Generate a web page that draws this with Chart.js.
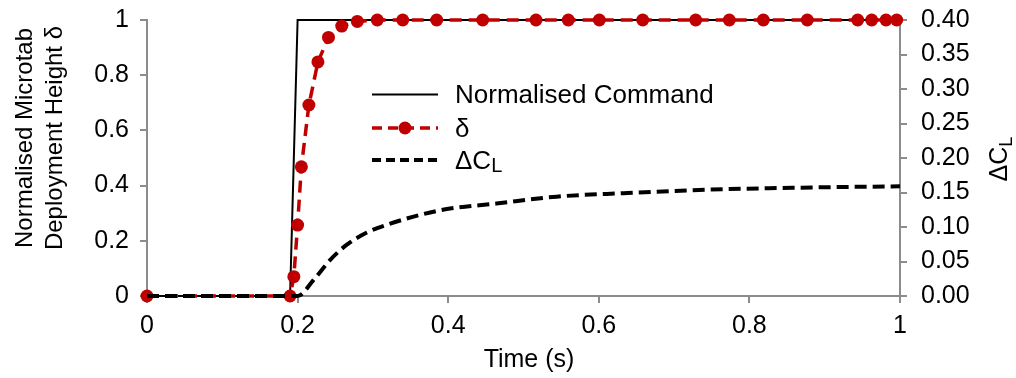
<!DOCTYPE html>
<html>
<head>
<meta charset="utf-8">
<script src="https://cdn.jsdelivr.net/npm/chart.js@4.4.1/dist/chart.umd.min.js"></script>
<style>
  html, body { margin: 0; padding: 0; background: #ffffff; }
  #wrap { width: 1016px; height: 378px; }
</style>
</head>
<body>
<div id="wrap"><canvas id="c" width="1016" height="378"></canvas></div>
<script>
// ---- Data ----
const commandTime = [0, 0.19, 0.2, 1];
const commandValue = [0, 0, 1, 1];

const deltaTime = [0, 0.19, 0.195, 0.2, 0.205, 0.215, 0.227, 0.241, 0.2586, 0.2793, 0.3058, 0.3396,
  0.3847, 0.4458, 0.5166, 0.5595, 0.6007, 0.6583, 0.7287, 0.7733, 0.8185, 0.8769, 0.9438, 0.9624, 0.9814, 0.9956];
const deltaValue = [0, 0, 0.070, 0.257, 0.468, 0.692, 0.848, 0.937, 0.978, 0.995, 1, 1,
  1, 1, 1, 1, 1, 1, 1, 1, 1, 1, 1, 1, 1, 1];

const dclTime = [0, 0.2, 0.221, 0.243, 0.265, 0.292, 0.318, 0.354, 0.398, 0.464, 0.544, 0.633, 0.743, 0.867, 1];
const dclValue = [0, 0, 0.023, 0.052, 0.074, 0.092, 0.103, 0.115, 0.126, 0.134, 0.144, 0.149, 0.154, 0.157, 0.159];

const xTicks = [0, 0.2, 0.4, 0.6, 0.8, 1];
const yTicks = [0, 0.2, 0.4, 0.6, 0.8, 1];
const y1Ticks = [0, 0.05, 0.10, 0.15, 0.20, 0.25, 0.30, 0.35, 0.40];

const legendLabels = ['Normalised Command', 'δ', 'ΔC'];
const leftTitle = ['Normalised Microtab', 'Deployment Height δ'];
const xTitle = 'Time (s)';

// ---- Styles ----
const FONT = '"Liberation Sans", Arial, sans-serif';
const RED = '#C00000';
const AXIS = '#8c8c8c';

const zip = (xs, ys) => xs.map((x, i) => ({ x: x, y: ys[i] }));

const setTicks = (vals) => (scale) => { scale.ticks = vals.map(v => ({ value: v })); };
const fitY = (w) => (s) => { s.width = w; s.paddingTop = 0; s.paddingBottom = 0; };

const annotations = {
  id: 'annotations',
  afterDraw(chart) {
    const ctx = chart.ctx;
    ctx.save();
    ctx.fillStyle = '#000';
    ctx.font = '24px ' + FONT;
    ctx.textAlign = 'center';
    ctx.textBaseline = 'alphabetic';
    [[32, leftTitle[0]], [62, leftTitle[1]]].forEach(([bx, t]) => {
      ctx.save();
      ctx.translate(bx, 138);
      ctx.rotate(-Math.PI / 2);
      ctx.fillText(t, 0, 0);
      ctx.restore();
    });
    ctx.font = '25px ' + FONT;
    ctx.fillText(xTitle, 529, 367);

    ctx.save();
    ctx.translate(1007, 159);
    ctx.rotate(-Math.PI / 2);
    ctx.font = '25px ' + FONT;
    const wMain = ctx.measureText('ΔC').width;
    ctx.font = '18px ' + FONT;
    const wSub = ctx.measureText('L').width;
    const start = -(wMain + wSub) / 2;
    ctx.textAlign = 'left';
    ctx.font = '25px ' + FONT;
    ctx.fillText('ΔC', start, 0);
    ctx.font = '18px ' + FONT;
    ctx.fillText('L', start + wMain, 5);
    ctx.restore();

    const x0 = 372, x1 = 438, tx = 455;
    ctx.strokeStyle = '#000';
    ctx.lineWidth = 2;
    ctx.setLineDash([]);
    ctx.beginPath(); ctx.moveTo(x0, 94.5); ctx.lineTo(x1, 94.5); ctx.stroke();
    ctx.strokeStyle = RED;
    ctx.lineWidth = 3.5;
    ctx.setLineDash([10, 6]);
    ctx.beginPath(); ctx.moveTo(x0, 128); ctx.lineTo(x1, 128); ctx.stroke();
    ctx.setLineDash([]);
    ctx.fillStyle = RED;
    ctx.beginPath(); ctx.arc(405, 128, 6.5, 0, Math.PI * 2); ctx.fill();
    ctx.strokeStyle = '#000';
    ctx.lineWidth = 4;
    ctx.setLineDash([9, 5]);
    ctx.beginPath(); ctx.moveTo(x0, 160); ctx.lineTo(x1, 160); ctx.stroke();
    ctx.setLineDash([]);

    ctx.fillStyle = '#000';
    ctx.textAlign = 'left';
    ctx.font = '26px ' + FONT;
    ctx.fillText(legendLabels[0], tx, 103);
    ctx.fillText(legendLabels[1], tx, 136.5);
    ctx.fillText(legendLabels[2], tx, 169);
    const wc = ctx.measureText(legendLabels[2]).width;
    ctx.font = '20px ' + FONT;
    ctx.fillText('L', tx + wc, 172);
    ctx.restore();
  }
};

new Chart(document.getElementById('c'), {
  type: 'line',
  data: {
    datasets: [
      {
        label: 'ΔCL',
        data: zip(dclTime, dclValue),
        yAxisID: 'y1',
        borderColor: '#000',
        borderWidth: 4,
        borderDash: [12, 6],
        pointRadius: 0,
        cubicInterpolationMode: 'monotone',
        fill: false,
        clip: false
      },
      {
        label: 'δ',
        data: zip(deltaTime, deltaValue),
        yAxisID: 'y',
        borderColor: RED,
        backgroundColor: RED,
        borderWidth: 3.5,
        borderDash: [12, 7],
        pointRadius: 6.5,
        pointBorderWidth: 0,
        pointBackgroundColor: RED,
        pointBorderColor: RED,
        tension: 0,
        fill: false,
        clip: false
      },
      {
        label: 'Normalised Command',
        data: zip(commandTime, commandValue),
        yAxisID: 'y',
        borderColor: '#000',
        borderWidth: 2,
        pointRadius: 0,
        tension: 0,
        fill: false,
        clip: false
      }
    ]
  },
  options: {
    responsive: false,
    animation: false,
    devicePixelRatio: 1,
    layout: { padding: { top: 20, left: 0, right: 0, bottom: 0 } },
    plugins: { legend: { display: false }, tooltip: { enabled: false } },
    scales: {
      x: {
        type: 'linear',
        min: 0, max: 1,
        afterBuildTicks: setTicks(xTicks),
        afterFit: (s) => { s.height = 82; s.paddingLeft = 0; s.paddingRight = 0; },
        grid: { drawOnChartArea: false, drawTicks: true, tickLength: 7, color: AXIS, lineWidth: 2 },
        border: { color: AXIS, width: 2 },
        ticks: { color: '#000', font: { family: FONT, size: 25 }, padding: 8, maxRotation: 0,
          callback: (v) => String(v) }
      },
      y: {
        type: 'linear',
        position: 'left',
        min: 0, max: 1,
        afterBuildTicks: setTicks(yTicks),
        afterFit: fitY(147),
        grid: { drawOnChartArea: false, drawTicks: true, tickLength: 7, color: AXIS, lineWidth: 2 },
        border: { color: AXIS, width: 2 },
        ticks: { color: '#000', font: { family: FONT, size: 25 }, padding: 11,
          callback: (v) => String(v) }
      },
      y1: {
        type: 'linear',
        position: 'right',
        min: 0, max: 0.4,
        afterBuildTicks: setTicks(y1Ticks),
        afterFit: fitY(116),
        grid: { drawOnChartArea: false, drawTicks: true, tickLength: 7, color: AXIS, lineWidth: 2 },
        border: { color: AXIS, width: 2 },
        ticks: { color: '#000', font: { family: FONT, size: 25 }, padding: 14,
          callback: (v) => Number(v).toFixed(2) }
      }
    }
  },
  plugins: [annotations]
});
</script>
</body>
</html>
